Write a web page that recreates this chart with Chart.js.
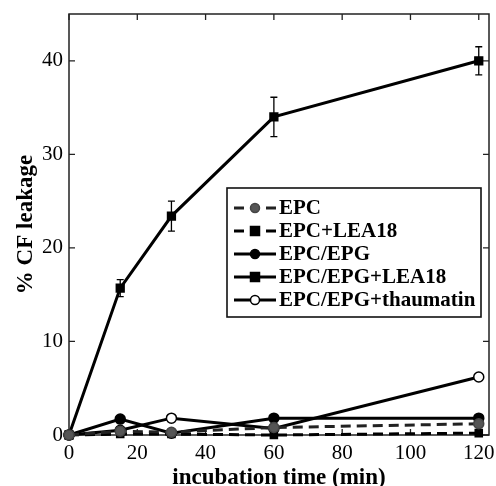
<!DOCTYPE html>
<html>
<head>
<meta charset="utf-8">
<script src="https://cdn.jsdelivr.net/npm/chart.js@4/dist/chart.umd.min.js"></script>
<style>
  html, body { margin: 0; padding: 0; background: #fff; }
  #wrap { position: relative; width: 496px; height: 486px; }
</style>
</head>
<body>
<div id="wrap"><canvas id="c" width="496" height="486"></canvas></div>
<script>
// ---- data ----
const xMinutes = [0, 15, 30, 60, 120];
const xTicks = [0, 20, 40, 60, 80, 100, 120];
const yTicks = [0, 10, 20, 30, 40];
const seriesNames = ['EPC', 'EPC+LEA18', 'EPC/EPG', 'EPC/EPG+LEA18', 'EPC/EPG+thaumatin'];
const epc = [0, 0.4, 0.3, 0.8, 1.2];
const epcLea18 = [0, 0.1, 0.1, 0.0, 0.2];
const epcEpg = [0, 1.7, 0.2, 1.8, 1.8];
const epcEpgLea18 = [0, 15.7, 23.4, 34.0, 40.0];
const epcEpgLea18Err = [0, 0.9, 1.6, 2.1, 1.5];
const epcEpgThaumatin = [0, 0.5, 1.8, 0.7, 6.2];
const xAxisTitle = 'incubation time (min)';
const yAxisTitle = '% CF leakage';

const SERIF = '"Liberation Serif", "Times New Roman", serif';
const toPts = arr => arr.map((v, i) => ({ x: xMinutes[i], y: v }));

const datasets = [
  { label: seriesNames[0], data: toPts(epc), borderColor: '#222', backgroundColor: '#555',
    pointBackgroundColor: '#555', pointBorderColor: '#444', borderDash: [10, 6], pointStyle: 'circle', pointRadius: 5 },
  { label: seriesNames[1], data: toPts(epcLea18), borderColor: '#000', backgroundColor: '#000',
    pointBackgroundColor: '#000', pointBorderColor: '#000', borderDash: [10, 6], pointStyle: 'rect', pointRadius: 5 },
  { label: seriesNames[2], data: toPts(epcEpg), borderColor: '#000', backgroundColor: '#000',
    pointBackgroundColor: '#000', pointBorderColor: '#000', borderDash: [], pointStyle: 'circle', pointRadius: 5 },
  { label: seriesNames[3], data: toPts(epcEpgLea18), borderColor: '#000', backgroundColor: '#000',
    pointBackgroundColor: '#000', pointBorderColor: '#000', borderDash: [], pointStyle: 'rect', pointRadius: 5.5,
    errors: epcEpgLea18Err },
  { label: seriesNames[4], data: toPts(epcEpgThaumatin), borderColor: '#000', backgroundColor: '#fff',
    pointBackgroundColor: '#fff', pointBorderColor: '#000', borderDash: [], pointStyle: 'circle', pointRadius: 5 }
].map(d => Object.assign({ borderWidth: 3, pointBorderWidth: 1.5, tension: 0, clip: false, fill: false }, d));

// error bars
const errorBarPlugin = {
  id: 'errorBars',
  afterDatasetsDraw(chart) {
    const ctx = chart.ctx;
    chart.data.datasets.forEach((ds) => {
      if (!ds.errors) return;
      const xs = chart.scales.x, ys = chart.scales.y;
      ctx.save();
      ctx.strokeStyle = '#000';
      ctx.lineWidth = 1.3;
      ds.data.forEach((p, i) => {
        const e = ds.errors[i];
        if (!e) return;
        const px = xs.getPixelForValue(p.x);
        const top = ys.getPixelForValue(p.y + e);
        const bot = ys.getPixelForValue(p.y - e);
        ctx.beginPath();
        ctx.moveTo(px, top); ctx.lineTo(px, bot);
        ctx.moveTo(px - 3.5, top); ctx.lineTo(px + 3.5, top);
        ctx.moveTo(px - 3.5, bot); ctx.lineTo(px + 3.5, bot);
        ctx.stroke();
      });
      ctx.restore();
    });
  }
};

// frame and inward ticks on all four sides
const framePlugin = {
  id: 'frame',
  beforeDatasetsDraw(chart) {
    const { ctx, chartArea: a } = chart;
    const xs = chart.scales.x, ys = chart.scales.y;
    ctx.save();
    ctx.strokeStyle = '#222';
    ctx.lineWidth = 1.5;
    ctx.strokeRect(a.left, a.top, a.right - a.left, a.bottom - a.top);
    ctx.lineWidth = 1.3;
    ctx.beginPath();
    const L = 6;
    xTicks.forEach(t => {
      const px = xs.getPixelForValue(t);
      ctx.moveTo(px, a.bottom); ctx.lineTo(px, a.bottom - L);
      ctx.moveTo(px, a.top); ctx.lineTo(px, a.top + L);
    });
    yTicks.forEach(t => {
      const py = ys.getPixelForValue(t);
      ctx.moveTo(a.left, py); ctx.lineTo(a.left + L, py);
      ctx.moveTo(a.right, py); ctx.lineTo(a.right - L, py);
    });
    ctx.stroke();
    ctx.restore();
  }
};

// legend box inside the plot
const legendPlugin = {
  id: 'innerLegend',
  afterDraw(chart) {
    const { ctx } = chart;
    const boxL = 227, boxT = 188, boxW = 254, boxH = 129;
    ctx.save();
    ctx.fillStyle = '#fff';
    ctx.fillRect(boxL, boxT, boxW, boxH);
    ctx.strokeStyle = '#111';
    ctx.lineWidth = 1.6;
    ctx.strokeRect(boxL, boxT, boxW, boxH);
    ctx.font = 'bold 21px ' + SERIF;
    ctx.textBaseline = 'middle';
    ctx.textAlign = 'left';
    chart.data.datasets.forEach((ds, i) => {
      const y = boxT + 20 + i * 23;
      const x0 = boxL + 7, x1 = boxL + 49, xm = (x0 + x1) / 2;
      ctx.strokeStyle = ds.borderColor;
      ctx.lineWidth = 3;
      ctx.setLineDash(ds.borderDash || []);
      ctx.beginPath(); ctx.moveTo(x0, y); ctx.lineTo(x1, y); ctx.stroke();
      ctx.setLineDash([]);
      ctx.fillStyle = ds.pointBackgroundColor;
      ctx.strokeStyle = ds.pointBorderColor;
      ctx.lineWidth = 1.5;
      if (ds.pointStyle === 'rect') {
        ctx.fillRect(xm - 4.5, y - 4.5, 9, 9);
        ctx.strokeRect(xm - 4.5, y - 4.5, 9, 9);
      } else {
        ctx.beginPath(); ctx.arc(xm, y, 4.5, 0, Math.PI * 2); ctx.fill(); ctx.stroke();
      }
      ctx.fillStyle = '#000';
      ctx.fillText(ds.label, boxL + 52, y + 1);
    });
    ctx.restore();
  }
};

new Chart(document.getElementById('c'), {
  type: 'line',
  data: { datasets },
  options: {
    responsive: false,
    animation: false,
    layout: { padding: { top: 14, right: 0, left: 0, bottom: 0 } },
    plugins: { legend: { display: false }, tooltip: { enabled: false } },
    scales: {
      x: {
        type: 'linear', min: 0, max: 123,
        afterFit(s) { s.height = 51; s.paddingLeft = 0; s.paddingRight = 0; s.paddingTop = 0; s.paddingBottom = 0; },
        afterBuildTicks(s) { s.ticks = xTicks.map(v => ({ value: v })); },
        grid: { display: false, drawTicks: false },
        border: { display: false },
        ticks: { color: '#000', font: { family: SERIF, size: 21 }, padding: 6, maxRotation: 0, autoSkip: false },
        title: { display: true, text: xAxisTitle, color: '#000',
                 font: { family: SERIF, size: 23, weight: 'bold', lineHeight: 0.7 },
                 padding: { top: 0, bottom: 0 } }
      },
      y: {
        type: 'linear', min: 0, max: 45,
        afterFit(s) { s.width = 69; s.paddingTop = 0; s.paddingBottom = 0; s.paddingLeft = 0; s.paddingRight = 0; },
        afterBuildTicks(s) { s.ticks = yTicks.map(v => ({ value: v })); },
        grid: { display: false, drawTicks: false },
        border: { display: false },
        ticks: { color: '#000', font: { family: SERIF, size: 21 }, padding: 6, autoSkip: false },
        title: { display: true, text: yAxisTitle, color: '#000', font: { family: SERIF, size: 23, weight: 'bold' },
                 padding: { top: 12, bottom: 0 } }
      }
    }
  },
  plugins: [framePlugin, errorBarPlugin, legendPlugin]
});
</script>
</body>
</html>
